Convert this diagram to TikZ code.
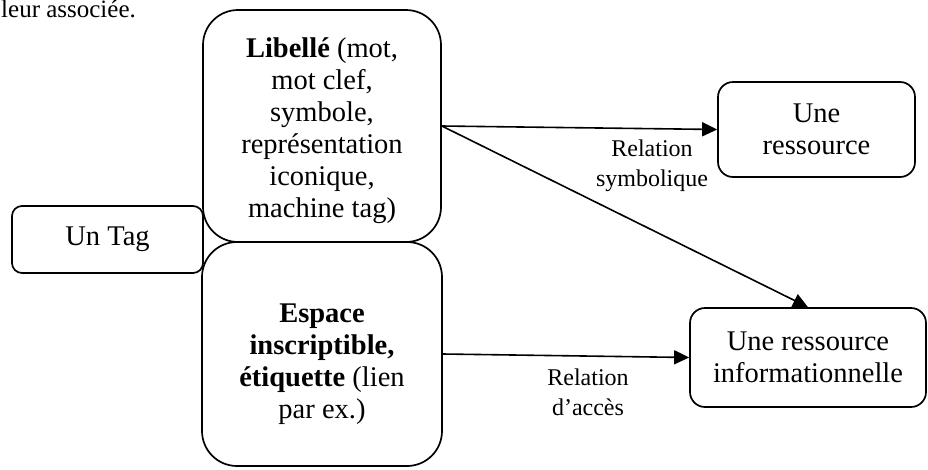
\documentclass[tikz,border=0pt]{standalone}
\usepackage{fontspec}
\setmainfont{Liberation Serif}
\usetikzlibrary{arrows.meta}
\begin{document}
\begin{tikzpicture}[x=1pt,y=-1pt,
  box/.style={draw, line width=1.7pt, rounded corners=#1, inner sep=0pt, align=center,
    font=\fontsize{28.5}{32}\selectfont},
  box/.default=12pt,
  lbl/.style={inner sep=0pt, align=center, font=\fontsize{24}{30}\selectfont},
  arr/.style={line width=1.6pt, -{Triangle[length=15pt,width=14pt]}}]
\useasboundingbox (0,0) rectangle (928,469);
\node[anchor=base west, inner sep=0pt, font=\fontsize{25}{30}\selectfont] (top) at (1,17) {leur associée.};
\node[box=35pt, minimum width=238pt, minimum height=232pt] (lib) at (322,126)
  {\rule{0pt}{30pt}\textbf{Libellé} (mot,\\ mot clef,\\ symbole,\\ représentation\\ iconique,\\ machine tag)};
\node[box=35pt, minimum width=240pt, minimum height=224pt] (esp) at (322,354)
  {\rule{0pt}{40pt}\textbf{Espace}\\ \textbf{inscriptible,}\\ \textbf{étiquette} (lien\\ par ex.)};
\node[box=10pt, minimum width=191pt, minimum height=67pt] (tag) at (107.5,239.5) {Un Tag};
\node[box=15pt, minimum width=197pt, minimum height=95pt] (res) at (816.5,129.5) {Une\\ ressource};
\node[box=15pt, minimum width=236pt, minimum height=99pt] (info) at (808,357.5) {Une ressource\\ informationnelle};
\draw[arr] (lib.east) -- (res.west);
\draw[arr] (lib.east) -- (info.north);
\draw[arr] (esp.east) -- (info.west);
\node[lbl] (lsym) at (652,166) {Relation\\ symbolique};
\node[lbl] (lacc) at (588,392) {Relation\\ d’accès};
\end{tikzpicture}
\end{document}
